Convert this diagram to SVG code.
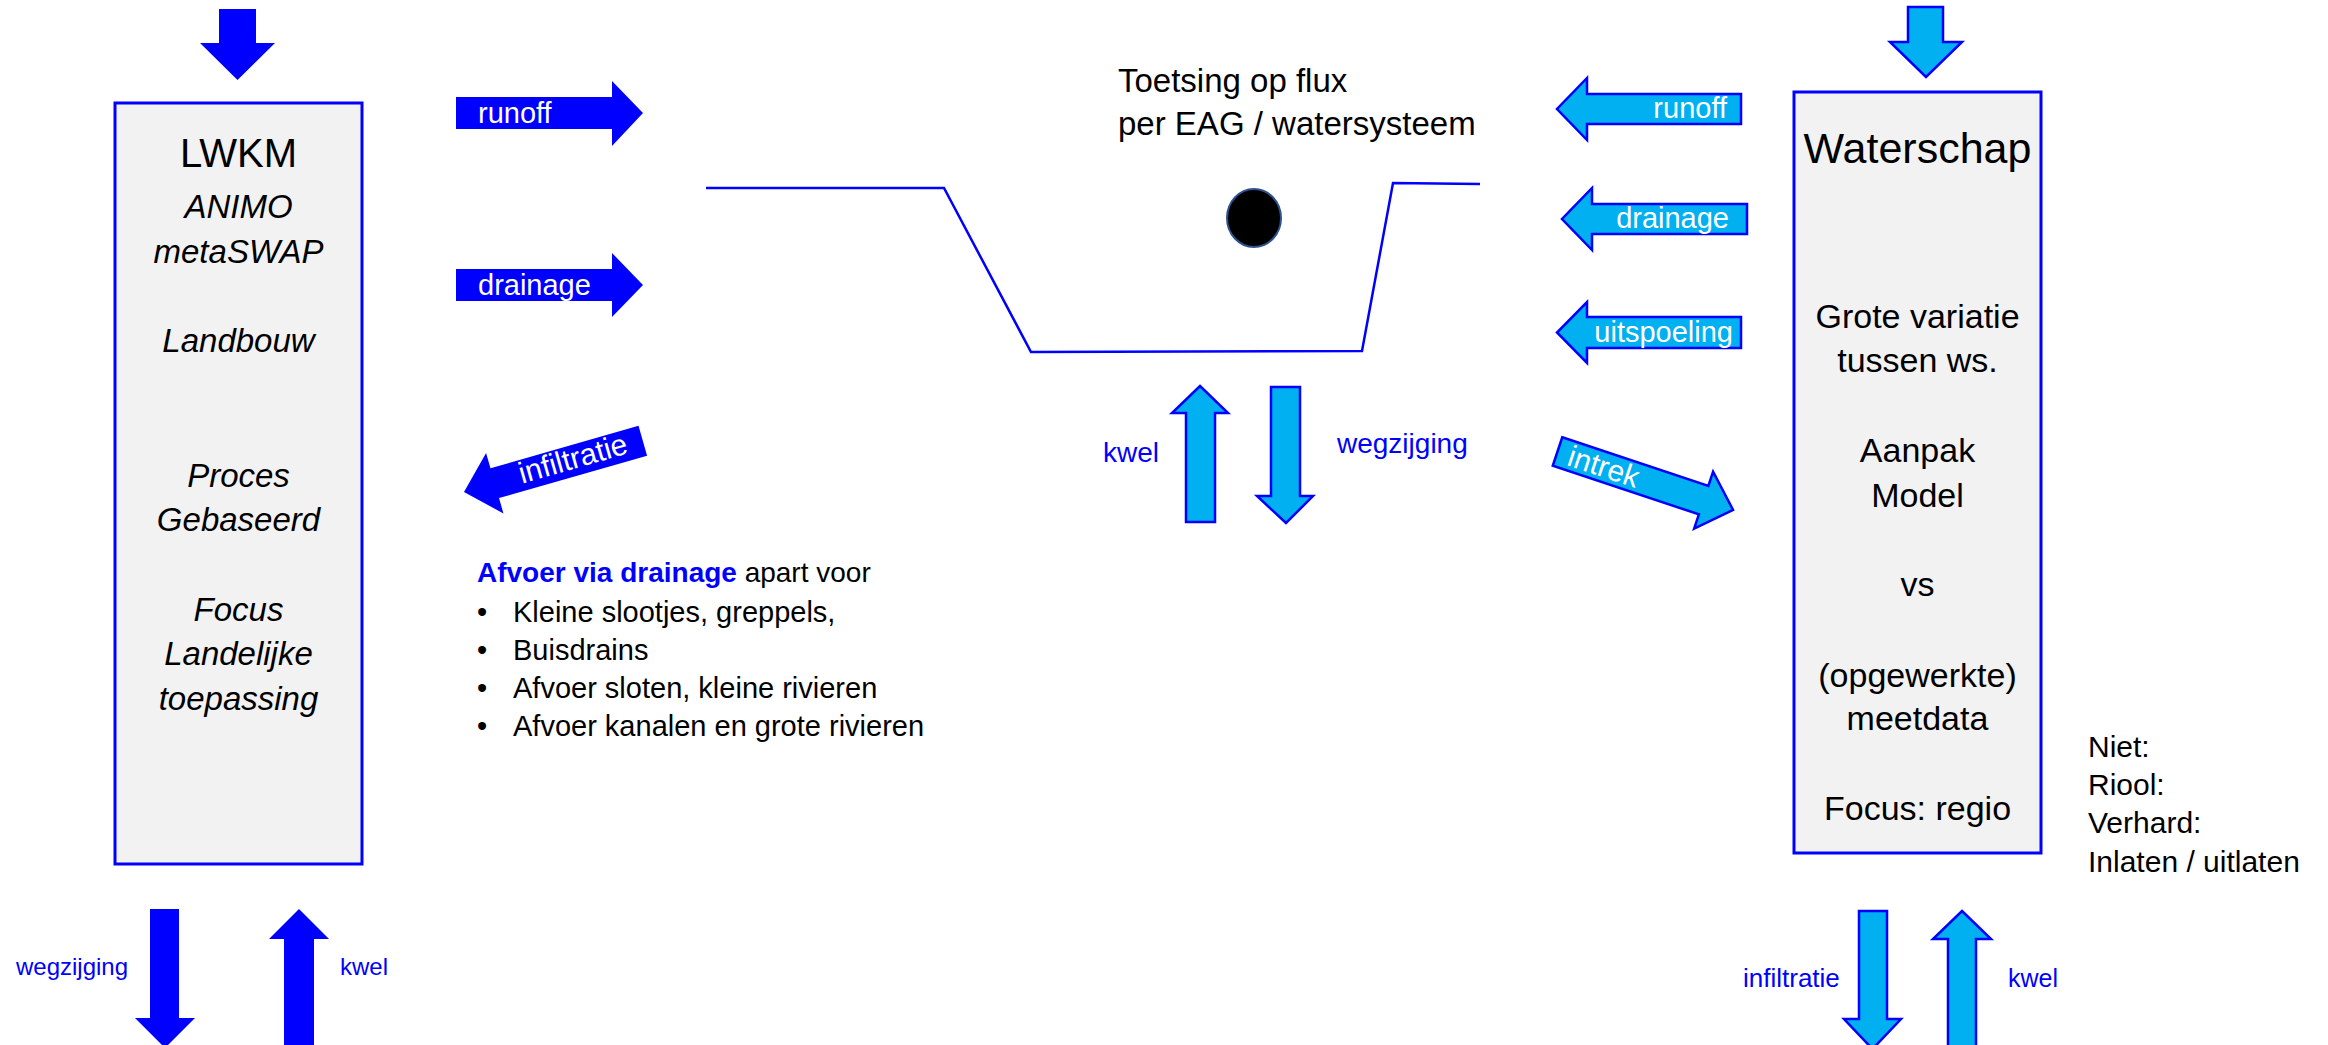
<svg xmlns="http://www.w3.org/2000/svg" width="2328" height="1045" viewBox="0 0 2328 1045">
<style>
  text { font-family: "Liberation Sans", Arial, sans-serif; }
  .box { fill: #F2F2F2; stroke: #0000FF; stroke-width: 3; }
  .dark { fill: #0000FF; stroke: none; }
  .light { fill: #00B0F0; stroke: #0000FF; stroke-width: 2.5; stroke-linejoin: miter; }
  .lbl { fill: #FFFFFF; font-size: 29px; }
  .blue { fill: #0000FF; font-size: 28px; }
  .it { font-size: 33px; font-style: italic; fill: #000; text-anchor: middle; }
  .ws { font-size: 34px; fill: #000; text-anchor: middle; }
  .body { font-size: 29px; fill: #000; }
  .note { font-size: 30px; fill: #000; }
</style>
<rect width="2328" height="1045" fill="#FFFFFF"/>

<g id="lwkm">
  <rect class="box" x="115" y="103" width="247" height="761"/>
  <text x="238.5" y="167" font-size="40" text-anchor="middle" fill="#000">LWKM</text>
  <text class="it" x="238.5" y="218">ANIMO</text>
  <text class="it" x="238.5" y="263">metaSWAP</text>
  <text class="it" x="238.5" y="352">Landbouw</text>
  <text class="it" x="238.5" y="487">Proces</text>
  <text class="it" x="238.5" y="531">Gebaseerd</text>
  <text class="it" x="238.5" y="621">Focus</text>
  <text class="it" x="238.5" y="665">Landelijke</text>
  <text class="it" x="238.5" y="710">toepassing</text>
</g>

<g id="waterschap">
  <rect class="box" x="1794" y="92" width="247" height="761"/>
  <text x="1917.5" y="163" font-size="43" text-anchor="middle" fill="#000">Waterschap</text>
  <text class="ws" x="1917.5" y="328">Grote variatie</text>
  <text class="ws" x="1917.5" y="372">tussen ws.</text>
  <text class="ws" x="1917.5" y="462">Aanpak</text>
  <text class="ws" x="1917.5" y="507">Model</text>
  <text class="ws" x="1917.5" y="596">vs</text>
  <text class="ws" x="1917.5" y="687">(opgewerkte)</text>
  <text class="ws" x="1917.5" y="730">meetdata</text>
  <text class="ws" x="1917.5" y="820">Focus: regio</text>
</g>

<g id="watersysteem">
  <polyline points="706,188 944,188 1031,352 1362,351 1393,183 1480,184" fill="none" stroke="#0000FF" stroke-width="2.5"/>
  <ellipse cx="1254" cy="218" rx="27" ry="29" fill="#000000" stroke="#2F528F" stroke-width="2"/>
  <text x="1118" y="92" font-size="33" fill="#000">Toetsing op flux</text>
  <text x="1118" y="135" font-size="33" fill="#000">per EAG / watersysteem</text>
</g>

<g id="afvoer-tekst">
  <text x="477" y="582" font-size="28"><tspan fill="#0000FF" font-weight="bold">Afvoer via drainage</tspan><tspan fill="#000"> apart voor</tspan></text>
  <text class="body" x="477" y="622">•</text><text class="body" x="513" y="622">Kleine slootjes, greppels,</text>
  <text class="body" x="477" y="660">•</text><text class="body" x="513" y="660">Buisdrains</text>
  <text class="body" x="477" y="698">•</text><text class="body" x="513" y="698">Afvoer sloten, kleine rivieren</text>
  <text class="body" x="477" y="736">•</text><text class="body" x="513" y="736">Afvoer kanalen en grote rivieren</text>
</g>

<g id="notities">
  <text class="note" x="2088" y="757">Niet:</text>
  <text class="note" x="2088" y="795">Riool:</text>
  <text class="note" x="2088" y="833">Verhard:</text>
  <text class="note" x="2088" y="872">Inlaten / uitlaten</text>
</g>

<g id="connectors">
  <!-- LWKM side (dark blue) -->
  <path class="dark" d="M219,9 H256 V43 H275 L237.5,80 L200,43 H219 Z"/>
  <path class="dark" d="M456,97 H612 V81 L643,113 L612,146 V129 H456 Z"/>
  <text class="lbl" x="478" y="123">runoff</text>
  <path class="dark" d="M456,269 H612 V253 L643,285 L612,317 V301 H456 Z"/>
  <text class="lbl" x="478" y="295">drainage</text>
  <g transform="translate(464,492) rotate(-16)">
    <path class="dark" d="M0,0 L32,-31.5 V-15.5 H186 V15.5 H32 V31.5 Z"/>
    <text x="58" y="8" fill="#FFFFFF" font-size="30">infiltratie</text>
  </g>
  <path class="dark" d="M150,909 H179 V1018 H195 L165,1048 L135,1018 H150 Z"/>
  <path class="dark" d="M299,909 L329,939 H314 V1050 H284 V939 H269 Z"/>
  <text class="blue" x="16" y="975" font-size="24" style="font-size:24px">wegzijging</text>
  <text class="blue" x="340" y="975" style="font-size:24px">kwel</text>

  <!-- middle -->
  <path class="light" d="M1200,386 L1228,413 H1215 V522 H1186 V413 H1172 Z"/>
  <path class="light" d="M1271,387 H1300 V496 H1313 L1286,523 L1257,496 H1271 Z"/>
  <text class="blue" x="1103" y="462">kwel</text>
  <text class="blue" x="1337" y="453">wegzijging</text>

  <!-- Waterschap side (light blue) -->
  <path class="light" d="M1908,7 H1943 V42 H1962 L1926,77 L1890,42 H1908 Z"/>
  <path class="light" d="M1741,94 H1587 V78 L1557,109 L1587,140 V124 H1741 Z"/>
  <text class="lbl" x="1727" y="118" text-anchor="end">runoff</text>
  <path class="light" d="M1747,204 H1592 V188 L1562,219 L1592,250 V234 H1747 Z"/>
  <text class="lbl" x="1729" y="228" text-anchor="end">drainage</text>
  <path class="light" d="M1741,317 H1587 V302 L1557,332.5 L1587,363 V348 H1741 Z"/>
  <text class="lbl" x="1733" y="342" text-anchor="end">uitspoeling</text>
  <g transform="translate(1557.5,451.5) rotate(18.4)">
    <path class="light" d="M0,-15 H154 V-30 L185,0 L154,30 V15 H0 Z"/>
    <text x="12" y="10" fill="#FFFFFF" font-size="30">intrek</text>
  </g>
  <path class="light" d="M1859,911 H1887 V1019 H1901 L1872.5,1049 L1844,1019 H1859 Z"/>
  <path class="light" d="M1962,911 L1991,939 H1976 V1050 H1948 V939 H1933 Z"/>
  <text class="blue" x="1743" y="987" style="font-size:26px">infiltratie</text>
  <text class="blue" x="2008" y="987" style="font-size:25px">kwel</text>
</g>
</svg>
